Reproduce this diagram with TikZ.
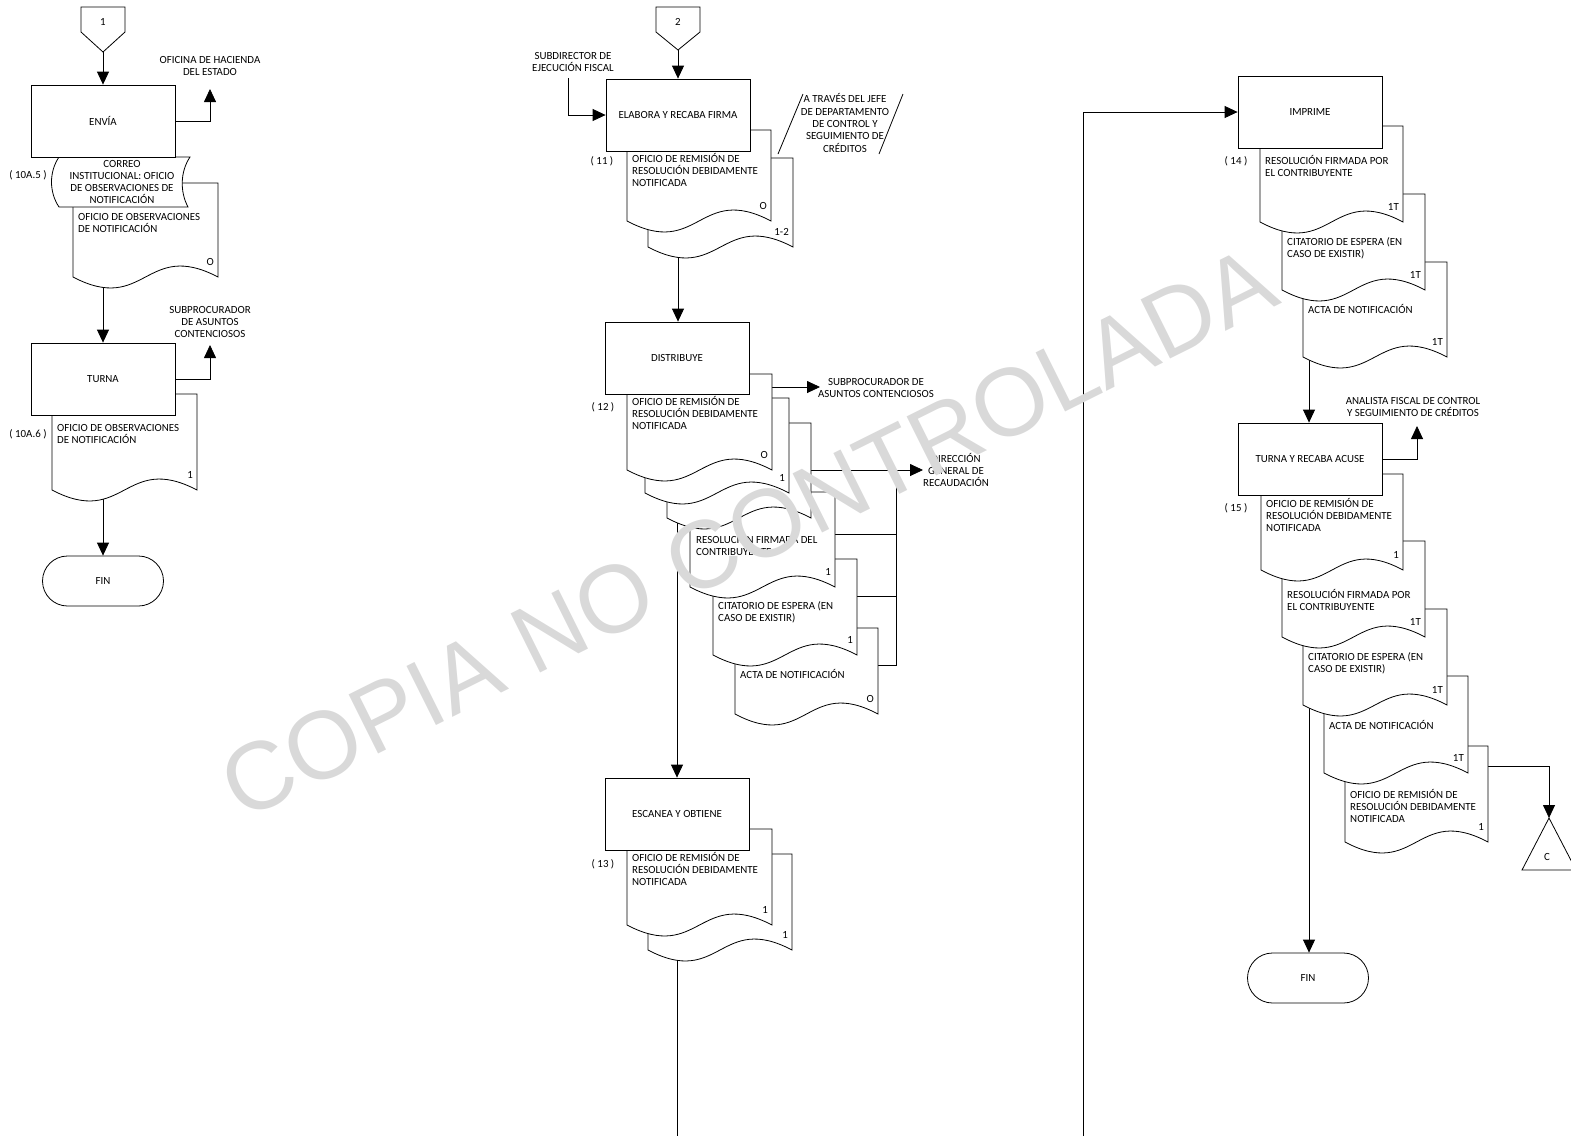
\documentclass[tikz,border=0pt]{standalone}
\usepackage{fontspec}
\setmainfont{Carlito}
\newfontfamily\wmfont{Liberation Sans}
\usetikzlibrary{arrows.meta,positioning}
\definecolor{wmgray}{RGB}{217,217,217}
\pgfdeclarelayer{bg}
\pgfsetlayers{bg,main}

\tikzset{
  proc/.style={draw, fill=white, line width=0.8pt, minimum width=144pt, minimum height=72pt, inner sep=0pt},
  term/.style={draw, fill=white, line width=0.8pt, rounded corners=25pt, minimum width=121pt, minimum height=50pt, inner sep=0pt},
  docline/.style={draw, fill=white, line width=0.8pt},
  dtxt/.style={anchor=north west, align=left, inner sep=0pt},
  ltxt/.style={align=center, inner sep=0pt},
  cnt/.style={anchor=east, inner sep=0pt},
  conn/.style={line width=0.8pt},
  arr/.style={line width=0.8pt, -{Triangle[length=13pt,width=12pt]}},
}

% documento: nombre, x izq, y sup, x der, y base, copia
\newcommand{\docu}[6]{%
  \path[docline] (#2,#3) -- (#4,#3) -- (#4,#5)
    .. controls ({(#2+#4)/2},{#5-38}) and ({(#2+#4)/2},{#5+38}) .. (#2,#5) -- cycle;
  \node[cnt] (#1-n) at (#4-4,#5-15) {#6};
}

\begin{document}
\begin{tikzpicture}[x=1pt, y=-1pt, font=\fontsize{10.9}{12.3}\selectfont]
  \useasboundingbox (0,0) rectangle (1571,1136);

  % columna izquierda
  \draw[conn, fill=white] (81,7) -- (125,7) -- (125,32) -- (103,52) -- (81,32) -- cycle;
  \node (c1lbl) at (103,22) {1};
  \coordinate (c1) at (103,52);
  \docu{l1}{73}{183}{218}{277}{O}
  \path[docline] (59,157) -- (190,157) .. controls (180,172) and (180,192) .. (188,207)
    -- (59,207) .. controls (49,192) and (49,172) .. (59,157) -- cycle;
  \node[ltxt] (correotxt) at (122,182) {CORREO\\INSTITUCIONAL: OFICIO\\DE OBSERVACIONES DE\\NOTIFICACIÓN};
  \node[proc] (envia) at (103,121) {ENVÍA};
  \node[ltxt] (ofitxt) at (210,66) {OFICINA DE HACIENDA\\DEL ESTADO};
  \node[dtxt] (l1txt) at (78,213) {OFICIO DE OBSERVACIONES\\DE NOTIFICACIÓN};
  \node (s105) at (28,175) {( 10A.5 )};

  \docu{l2}{52}{394}{197}{490}{1}
  \node[proc] (turna) at (103,379) {TURNA};
  \node[ltxt] (sub1txt) at (210,322) {SUBPROCURADOR\\DE ASUNTOS\\CONTENCIOSOS};
  \node[dtxt] (l2txt) at (57,424) {OFICIO DE OBSERVACIONES\\DE NOTIFICACIÓN};
  \node (s106) at (28,434) {( 10A.6 )};
  \node[term] (fin1) at (103,581) {FIN};

  % columna central
  \draw[conn, fill=white] (656,7) -- (700,7) -- (700,32) -- (678,50) -- (656,32) -- cycle;
  \node (c2lbl) at (678,22) {2};
  \coordinate (c2) at (678,50);
  \node[ltxt] (sdftxt) at (573,62) {SUBDIRECTOR DE\\EJECUCIÓN FISCAL};
  \docu{m11b}{648}{158}{793}{247}{1-2}
  \docu{m11a}{627}{130}{771}{221}{O}
  \node[proc] (elabora) at (678,115) {ELABORA Y RECABA FIRMA};
  \node[dtxt] (m11t) at (632,153) {OFICIO DE REMISIÓN DE\\RESOLUCIÓN DEBIDAMENTE\\NOTIFICADA};
  \node (s11) at (602,161) {( 11 )};
  \draw[conn] (778,154) -- (803,94);
  \draw[conn] (879,154) -- (903,94);
  \node[ltxt] (jefetxt) at (845,123) {A TRAVÉS DEL JEFE\\DE DEPARTAMENTO\\DE CONTROL Y\\SEGUIMIENTO DE\\CRÉDITOS};

  \docu{m12f}{735}{628}{878}{714}{O}
  \docu{m12e}{713}{559}{857}{655}{1}
  \docu{m12d}{690}{492}{835}{587}{1}
  \docu{m12c}{667}{423}{811}{518}{}
  \docu{m12b}{645}{398}{789}{493}{1}
  \docu{m12a}{627}{374}{772}{470}{O}
  \node[proc] (distribuye) at (677,358) {DISTRIBUYE};
  \node[dtxt] (m12at) at (632,396) {OFICIO DE REMISIÓN DE\\RESOLUCIÓN DEBIDAMENTE\\NOTIFICADA};
  \node[dtxt] (m12dt) at (696,534) {RESOLUCIÓN FIRMADA DEL\\CONTRIBUYENTE};
  \node[dtxt] (m12et) at (718,601) {CITATORIO DE ESPERA (EN\\CASO DE EXISTIR)};
  \node[dtxt] (m12ft) at (740,669) {ACTA DE NOTIFICACIÓN};
  \node (s12) at (603,407) {( 12 )};
  \node[ltxt] (sub2txt) at (876,388) {SUBPROCURADOR DE\\ASUNTOS CONTENCIOSOS};
  \node[ltxt] (dgrtxt) at (956,470) {DIRECCIÓN\\GENERAL DE\\RECAUDACIÓN};

  \docu{m13b}{648}{854}{792}{950}{1}
  \docu{m13a}{627}{829}{772}{925}{1}
  \node[proc] (escanea) at (677,814) {ESCANEA Y OBTIENE};
  \node[dtxt] (m13t) at (632,852) {OFICIO DE REMISIÓN DE\\RESOLUCIÓN DEBIDAMENTE\\NOTIFICADA};
  \node (s13) at (603,864) {( 13 )};

  % columna derecha
  \docu{rc}{1303}{262}{1447}{357}{1T}
  \docu{rb}{1282}{194}{1425}{290}{1T}
  \docu{ra}{1260}{126}{1403}{222}{1T}
  \node[proc] (imprime) at (1310,112) {IMPRIME};
  \node[dtxt] (rat) at (1265,155) {RESOLUCIÓN FIRMADA POR\\EL CONTRIBUYENTE};
  \node[dtxt] (rbt) at (1287,237) {CITATORIO DE ESPERA (EN\\CASO DE EXISTIR)};
  \node[dtxt] (rct) at (1308,304) {ACTA DE NOTIFICACIÓN};
  \node (s14) at (1236,161) {( 14 )};

  \docu{d5}{1345}{746}{1488}{842}{1}
  \docu{d4}{1324}{676}{1468}{773}{1T}
  \docu{d3}{1303}{609}{1447}{705}{1T}
  \docu{d2}{1282}{541}{1425}{637}{1T}
  \docu{d1}{1261}{474}{1403}{570}{1}
  \node[proc] (tra) at (1310,459) {TURNA Y RECABA ACUSE};
  \node[ltxt] (anltxt) at (1413,407) {ANALISTA FISCAL DE CONTROL\\Y SEGUIMIENTO DE CRÉDITOS};
  \node[dtxt] (d1t) at (1266,498) {OFICIO DE REMISIÓN DE\\RESOLUCIÓN DEBIDAMENTE\\NOTIFICADA};
  \node[dtxt] (d2t) at (1287,589) {RESOLUCIÓN FIRMADA POR\\EL CONTRIBUYENTE};
  \node[dtxt] (d3t) at (1308,652) {CITATORIO DE ESPERA (EN\\CASO DE EXISTIR)};
  \node[dtxt] (d4t) at (1329,720) {ACTA DE NOTIFICACIÓN};
  \node[dtxt] (d5t) at (1350,789) {OFICIO DE REMISIÓN DE\\RESOLUCIÓN DEBIDAMENTE\\NOTIFICADA};
  \node (s15) at (1236,508) {( 15 )};
  \node[term] (fin2) at (1308,978) {FIN};
  \draw[conn, fill=white] (1549,818) -- (1576,870) -- (1522,870) -- cycle;
  \node (cClbl) at (1547,857) {C};

  % puntos de conexion
  \coordinate (ofi) at (210,89);
  \coordinate (l1b) at (103,270);
  \coordinate (sub1) at (210,345);
  \coordinate (l2b) at (103,480);
  \coordinate (sdf) at (568,78);
  \coordinate (m11bb) at (678,240);
  \coordinate (m12o) at (772,387);
  \coordinate (sub2) at (820,387);
  \coordinate (m12r) at (811,470);
  \coordinate (dgr) at (923,470);
  \coordinate (bus) at (896,470);
  \coordinate (m12dr) at (835,534);
  \coordinate (m12er) at (857,596);
  \coordinate (m12fr) at (878,665);
  \coordinate (m12bb) at (677,510);
  \coordinate (m13bb) at (677,940);
  \coordinate (pgend1) at (677,1136);
  \coordinate (pgend2) at (1083,1136);
  \coordinate (rcb) at (1309,350);
  \coordinate (anl) at (1417,426);
  \coordinate (d1b) at (1309,560);
  \coordinate (d5r) at (1488,766);
  \coordinate (conC) at (1549,818);

  \begin{pgfonlayer}{bg}
    \draw[arr] (c1) -- (envia.north);
    \draw[arr] (envia.east) -| (ofi);
    \draw[arr] (l1b) -- (turna.north);
    \draw[arr] (turna.east) -| (sub1);
    \draw[arr] (l2b) -- (fin1.north);
    \draw[arr] (c2) -- (elabora.north);
    \draw[arr] (sdf) |- (elabora.west);
    \draw[arr] (m11bb) -- (m11bb |- distribuye.north);
    \draw[arr] (m12o) -- (sub2);
    \draw[arr] (m12r) -- (dgr);
    \draw[conn] (bus) |- (m12fr);
    \draw[conn] (m12dr) -- (m12dr -| bus);
    \draw[conn] (m12er) -- (m12er -| bus);
    \draw[arr] (m12bb) -- (m12bb |- escanea.north);
    \draw[conn] (m13bb) -- (pgend1);
    \draw[arr] (pgend2) |- (imprime.west);
    \draw[arr] (rcb) -- (rcb |- tra.north);
    \draw[arr] (tra.east) -| (anl);
    \draw[arr] (d1b) -- (d1b |- fin2.north);
    \draw[arr] (d5r) -| (conC);
  \end{pgfonlayer}

  % marca de agua
  \node[text=wmgray, font=\wmfont\fontsize{96}{96}\selectfont, rotate=26.5] (wmark) at (748,533) {COPIA NO CONTROLADA};
\end{tikzpicture}
\end{document}
